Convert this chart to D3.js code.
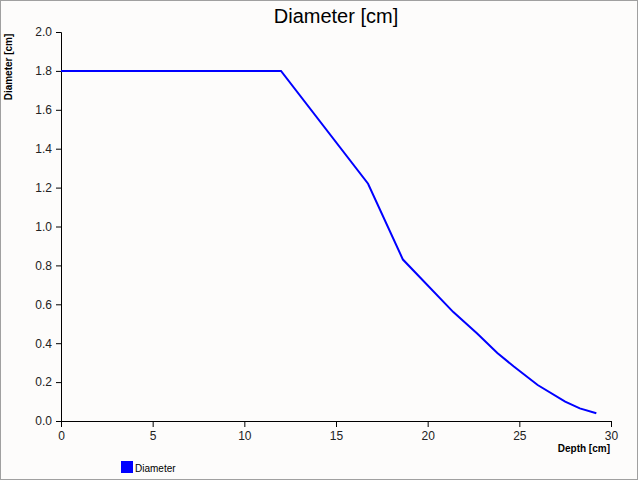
<!DOCTYPE html>
<html>
<head>
<meta charset="utf-8">
<script src="https://cdn.jsdelivr.net/npm/d3@7"></script>
<style>
  body { margin: 0; background: #fff; }
  svg { display: block; font-family: "Liberation Sans", Arial, sans-serif; }
</style>
</head>
<body>
<svg id="chart" width="640" height="483"></svg>
<script>
// data
const depth = [0, 12, 16.75, 18.65, 21.4, 22.7, 23.8, 24.7, 26.0, 27.5, 28.3, 29.2];
const diameter = [1.8, 1.8, 1.22, 0.83, 0.56, 0.45, 0.35, 0.28, 0.185, 0.10, 0.065, 0.04];
const xTicks = [0, 5, 10, 15, 20, 25, 30];
const yTicks = [0, 0.2, 0.4, 0.6, 0.8, 1.0, 1.2, 1.4, 1.6, 1.8, 2.0];
const seriesName = "Diameter";

const buildChart = (svg_name) => {
    let chart = d3.select(svg_name);
    let margin = { left: 61, right: 29, top: 32, bottom: 62 };
    let w = +chart.attr("width");
    let h = +chart.attr("height");

    chart.append("rect")
        .attr("x", 0.5).attr("y", 0.5)
        .attr("width", w - 3).attr("height", h - 4)
        .attr("fill", "#fdfcfb")
        .attr("stroke", "#a0a0a0");

    let x = d3.scaleLinear().domain([0, 30]).range([margin.left, w - margin.right]);
    let y = d3.scaleLinear().domain([0, 2]).range([h - margin.bottom, margin.top]);

    let y_axis = d3.axisLeft(y).tickValues(yTicks).tickFormat(d3.format(".1f")).tickSizeOuter(0).tickSize(5).tickPadding(4);
    let x_axis = d3.axisBottom(x).tickValues(xTicks).tickFormat(d3.format("d")).tickSizeOuter(0).tickSize(6).tickPadding(4);

    let ga = chart.append("g").attr("transform", "translate(" + margin.left + ",0)").call(y_axis);
    let gb = chart.append("g").attr("transform", "translate(0," + (h - margin.bottom) + ")").call(x_axis);
    [ga, gb].forEach(g => {
        g.selectAll("text").attr("font-size", 12).attr("font-family", "Liberation Sans, Arial, sans-serif").attr("fill", "#222");
        g.selectAll("line, path").attr("stroke", "#000");
    });

    let line = d3.line().x((d, i) => x(depth[i])).y((d, i) => y(diameter[i]));
    chart.append("path")
        .datum(depth)
        .attr("d", line)
        .attr("fill", "none")
        .attr("stroke", "#0000ff")
        .attr("stroke-width", 2);

    chart.append("text")
        .attr("x", 336).attr("y", 23)
        .attr("text-anchor", "middle")
        .attr("font-size", 20)
        .text("Diameter [cm]");

    chart.append("text")
        .attr("transform", "rotate(-90)")
        .attr("x", -67).attr("y", 12)
        .attr("text-anchor", "middle")
        .attr("font-size", 10)
        .attr("font-weight", "bold")
        .text("Diameter [cm]");

    chart.append("text")
        .attr("x", 610).attr("y", 452)
        .attr("text-anchor", "end")
        .attr("font-size", 10)
        .attr("font-weight", "bold")
        .text("Depth [cm]");

    chart.append("rect")
        .attr("x", 121).attr("y", 461)
        .attr("width", 12).attr("height", 12)
        .attr("fill", "#0000ff");
    chart.append("text")
        .attr("x", 135).attr("y", 472)
        .attr("font-size", 10)
        .text(seriesName);
}

buildChart("#chart");
</script>
</body>
</html>
